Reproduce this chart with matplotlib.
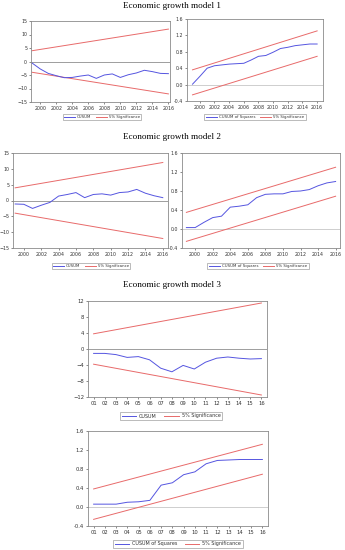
import matplotlib
matplotlib.use("Agg")
import matplotlib.pyplot as plt
from matplotlib.lines import Line2D

# ---------------- data ----------------
years = list(range(1999, 2017))
periods = list(range(1, 17))
period_labels = ["01", "02", "03", "04", "05", "06", "07", "08", "09", "10",
                 "11", "12", "13", "14", "15", "16"]

m1_cusum = [-0.6, -2.75, -4.4, -5.25, -6.0, -5.9, -5.4, -5.0, -6.25, -5.0,
            -4.6, -5.9, -4.9, -4.25, -3.25, -3.75, -4.4, -4.5]
m1_cusum_bound = [4.0, 12.0]
m1_cusumsq = [0.01, 0.20, 0.40, 0.46, 0.48, 0.50, 0.51, 0.52, 0.60, 0.69,
              0.71, 0.79, 0.88, 0.91, 0.95, 0.97, 0.99, 0.99]
m1_sq_upper = [0.36, 1.31]
m1_sq_lower = [-0.25, 0.69]

m2_cusum = [-1.1, -1.2, -2.5, -1.5, -0.6, 1.4, 1.9, 2.5, 0.9, 1.9,
            2.1, 1.7, 2.5, 2.7, 3.5, 2.3, 1.5, 0.9]
m2_cusum_bound = [4.0, 12.0]
m2_cusumsq = [0.03, 0.03, 0.14, 0.24, 0.27, 0.46, 0.48, 0.51, 0.66, 0.73,
              0.74, 0.74, 0.79, 0.80, 0.83, 0.91, 0.97, 1.00]
m2_sq_upper = [0.35, 1.30]
m2_sq_lower = [-0.26, 0.69]

m3_cusum = [-1.1, -1.1, -1.4, -2.1, -1.9, -2.7, -4.8, -5.7, -4.1, -5.0,
            -3.3, -2.3, -2.0, -2.3, -2.5, -2.4]
m3_cusum_bound = [3.8, 11.5]
m3_cusumsq = [0.06, 0.06, 0.06, 0.10, 0.11, 0.14, 0.46, 0.51, 0.68, 0.74,
              0.91, 0.98, 0.99, 1.00, 1.00, 1.00]
m3_sq_upper = [0.38, 1.32]
m3_sq_lower = [-0.26, 0.69]

titles = ["Economic growth model 1", "Economic growth model 2", "Economic growth model 3"]
cusum_label = "CUSUM"
cusumsq_label = "CUSUM of Squares"
sig_label = "5% Significance"

# ---------------- style ----------------
W, H = 345, 550
BLUE = "#5555e0"
RED = "#e86a6a"
SPINE = "#8a8a8a"
TICKC = "#333333"

fig = plt.figure(figsize=(W / 100, H / 100), dpi=100)


def make_ax(l, r, t, b, fs=3.4):
    ax = fig.add_axes([l / W, 1 - b / H, (r - l) / W, (b - t) / H])
    for s in ax.spines.values():
        s.set_color(SPINE)
        s.set_linewidth(0.6)
    ax.tick_params(labelsize=fs, colors=TICKC, length=1.5, width=0.4, pad=1.2)
    return ax


def cusum_panel(ax, x, vals, bound, yl, yt, xl):
    ax.axhline(0, color="#777777", lw=0.5, zorder=1)
    ax.plot([x[0], x[-1]], [bound[0], bound[1]], color=RED, lw=0.7)
    ax.plot([x[0], x[-1]], [-bound[0], -bound[1]], color=RED, lw=0.7)
    ax.plot(x, vals, color=BLUE, lw=0.7)
    ax.set_ylim(*yl)
    ax.set_yticks(yt)
    ax.set_xlim(*xl)


def sq_panel(ax, x, vals, up, lo, xl):
    ax.axhline(0, color="#bbbbbb", lw=0.5, zorder=1)
    ax.plot([x[0], x[-1]], up, color=RED, lw=0.7)
    ax.plot([x[0], x[-1]], lo, color=RED, lw=0.7)
    ax.plot(x, vals, color=BLUE, lw=0.7)
    ax.set_ylim(-0.4, 1.6)
    ax.set_yticks([-0.4, 0.0, 0.4, 0.8, 1.2, 1.6])
    ax.set_yticklabels(["-0.4", "0.0", "0.4", "0.8", "1.2", "1.6"])
    ax.set_xlim(*xl)


def legend_at(cx, cy, label, fs, hl, cs):
    handles = [Line2D([], [], color=BLUE, lw=0.7), Line2D([], [], color=RED, lw=0.7)]
    leg = fig.legend(handles, [label, sig_label], loc="center",
                     bbox_to_anchor=(cx / W, 1 - cy / H), ncol=2, fontsize=fs,
                     frameon=True, fancybox=False, edgecolor="#888888",
                     handlelength=hl, handletextpad=0.6, columnspacing=cs,
                     borderpad=0.3)
    leg.get_frame().set_linewidth(0.5)
    for t in leg.get_texts():
        t.set_color(TICKC)


yticks_15 = [-15, -10, -5, 0, 5, 10, 15]
xt_years = list(range(2000, 2017, 2))

# Model 1
fig.text(172 / W, 1 - 6 / H, titles[0], ha="center", va="center",
         fontsize=6.6, family="Liberation Serif")
ax1 = make_ax(31, 170, 21, 102)
cusum_panel(ax1, years, m1_cusum, m1_cusum_bound, (-15, 15), yticks_15, (1998.85, 2016.2))
ax1.set_xticks(xt_years)
ax2 = make_ax(187, 323, 19, 101)
sq_panel(ax2, years, m1_cusumsq, m1_sq_upper, m1_sq_lower, (1998.25, 2016.8))
ax2.set_xticks(xt_years)
legend_at(102, 117, cusum_label, 2.8, 2.8, 1.2)
legend_at(255, 117, cusumsq_label, 2.8, 2.8, 1.2)

# Model 2
fig.text(172 / W, 1 - 137 / H, titles[1], ha="center", va="center",
         fontsize=6.6, family="Liberation Serif")
ax3 = make_ax(13, 168, 153, 248)
cusum_panel(ax3, years, m2_cusum, m2_cusum_bound, (-15, 15), yticks_15, (1998.75, 2016.6))
ax3.set_xticks(xt_years)
ax4 = make_ax(182, 340, 153, 248)
sq_panel(ax4, years, m2_cusumsq, m2_sq_upper, m2_sq_lower, (1998.5, 2016.5))
ax4.set_xticks(xt_years)
legend_at(91, 266, cusum_label, 2.8, 2.8, 1.2)
legend_at(258, 266, cusumsq_label, 2.8, 2.8, 1.2)

# Model 3
fig.text(172 / W, 1 - 285 / H, titles[2], ha="center", va="center",
         fontsize=6.6, family="Liberation Serif")
ax5 = make_ax(88, 267, 301, 397, fs=3.8)
cusum_panel(ax5, periods, m3_cusum, m3_cusum_bound, (-12, 12),
            [-12, -8, -4, 0, 4, 8, 12], (0.5, 16.5))
ax5.set_xticks(periods)
ax5.set_xticklabels(period_labels)
legend_at(171, 416, cusum_label, 3.5, 3.0, 1.5)
ax6 = make_ax(88, 268, 431, 526, fs=3.8)
sq_panel(ax6, periods, m3_cusumsq, m3_sq_upper, m3_sq_lower, (0.5, 16.5))
ax6.set_xticks(periods)
ax6.set_xticklabels(period_labels)
legend_at(178, 544, cusumsq_label, 3.5, 3.0, 1.5)

fig.savefig("out.png", dpi=100)
